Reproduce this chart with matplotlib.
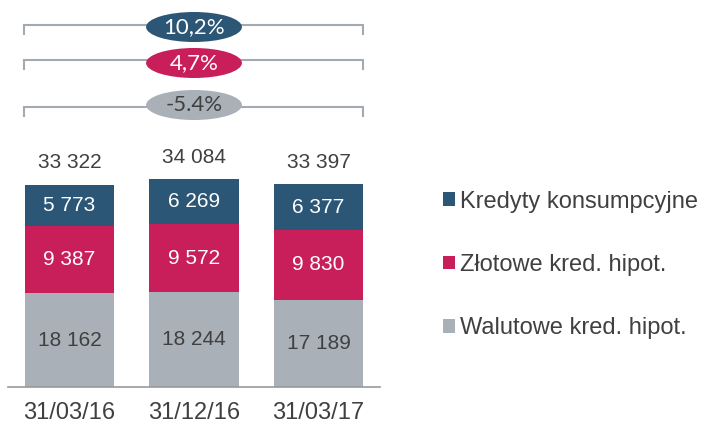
import matplotlib
matplotlib.use("Agg")
import matplotlib.pyplot as plt
from matplotlib.patches import Ellipse
from matplotlib.transforms import blended_transform_factory

# data
categories = ["31/03/16", "31/12/16", "31/03/17"]
walutowe = [18162, 18244, 17189]
zlotowe = [9387, 9572, 9830]
konsumpcyjne = [5773, 6269, 6377]
totals = [33322, 34084, 33397]
changes = ["10,2%", "4,7%", "-5.4%"]

c_blue = "#2C5675"
c_pink = "#C81E5A"
c_grey = "#A9B0B8"
c_text = "#404040"
c_line = "#A3AAB1"

fig = plt.figure(figsize=(7.05, 4.24), dpi=100)
ax = fig.add_axes([8/705, 37/424, 372/705, 387/424])
ax.set_xlim(-0.494, 2.494)
ymin = 5000
ax.set_ylim(ymin, ymin + 387/0.00714)

x = range(len(categories))
w = 0.715
b1 = ax.bar(x, walutowe, w, color=c_grey, label="Walutowe kred. hipot.")
bot2 = walutowe
b2 = ax.bar(x, zlotowe, w, bottom=bot2, color=c_pink, label="Złotowe kred. hipot.")
bot3 = [a + b for a, b in zip(walutowe, zlotowe)]
b3 = ax.bar(x, konsumpcyjne, w, bottom=bot3, color=c_blue, label="Kredyty konsumpcyjne")

def fmt(v):
    return f"{v:,}".replace(",", " ")

fs = 15
for i in x:
    ax.text(i, (ymin + walutowe[i]) / 2, fmt(walutowe[i]), ha="center", va="center",
            color=c_text, fontsize=fs, family="Liberation Sans")
    ax.text(i, bot2[i] + zlotowe[i] / 2, fmt(zlotowe[i]), ha="center", va="center",
            color="white", fontsize=fs, family="Liberation Sans")
    ax.text(i, bot3[i] + konsumpcyjne[i] / 2, fmt(konsumpcyjne[i]), ha="center", va="center",
            color="white", fontsize=fs, family="Liberation Sans")
    ax.annotate(fmt(totals[i]), (i, totals[i]), xytext=(0, 16), textcoords="offset points",
                ha="center", va="center", color=c_text, fontsize=fs, family="Liberation Sans")

for s in ["top", "left", "right"]:
    ax.spines[s].set_visible(False)
ax.spines["bottom"].set_color("#9A9A9A")
ax.spines["bottom"].set_linewidth(1.2)
ax.set_yticks([])
ax.set_xticks(list(x))
ax.set_xticklabels(categories, fontsize=17, color=c_text, family="Liberation Sans")
ax.tick_params(axis="x", length=0, pad=11)

# growth brackets
tr = blended_transform_factory(ax.transData, ax.transAxes)
x0, x1 = -0.365, 2.357
line_px = [25, 60, 107]
ell_px = [27, 63, 105]
ell_fc = [c_blue, c_pink, c_grey]
ell_tc = ["white", "white", c_text]
for lp, ep, txt, fc, tc in zip(line_px, ell_px, changes, ell_fc, ell_tc):
    yl = (387 - lp) / 387
    yt = (387 - lp - 9) / 387
    ax.plot([x0, x0, x1, x1], [yt, yl, yl, yt], color=c_line, lw=1.5,
            transform=tr, clip_on=False, solid_joinstyle="miter")
    ye = (387 - ep) / 387
    ax.add_patch(Ellipse((1, ye), 0.77, 30/387, transform=tr, facecolor=fc,
                         edgecolor="none", clip_on=False, zorder=3))
    ax.text(1, ye, txt, transform=tr, ha="center", va="center", color=tc,
            fontsize=16, family="Lato", zorder=4)

handles = [b3, b2, b1]
leg = ax.legend(handles, [h.get_label() for h in handles], loc="center left",
                bbox_to_anchor=(443/705, (424-265)/424), bbox_transform=fig.transFigure,
                frameon=False, labelcolor=c_text, borderpad=0,
                borderaxespad=0, handlelength=0.51, handleheight=0.51,
                handletextpad=0.22, labelspacing=1.75, prop={"family": "Liberation Sans", "size": 17})

fig.savefig("out.png", dpi=100)
